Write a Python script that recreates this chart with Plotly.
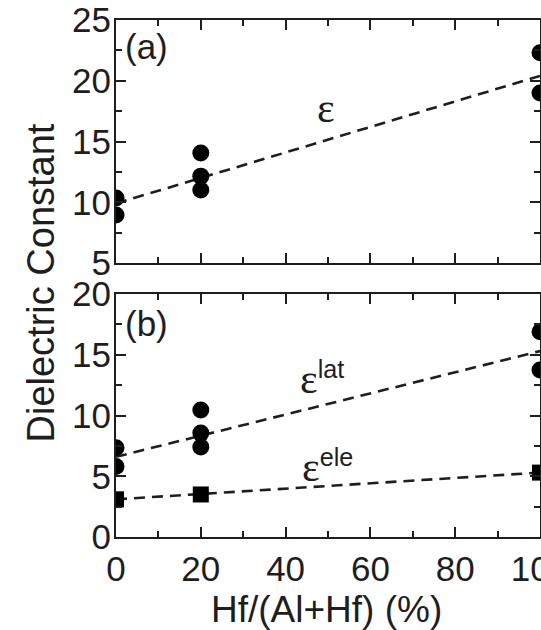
import plotly.graph_objects as go

# ---- data ----
x_fit = [0, 100]
eps_fit = [9.9, 20.4]
lat_fit = [6.6, 15.3]
ele_fit = [3.1, 5.3]

eps_x = [0, 0, 20, 20, 20, 100, 100]
eps_y = [10.35, 8.95, 14.05, 12.15, 11.0, 22.3, 19.0]

lat_x = [0, 0, 20, 20, 20, 100, 100]
lat_y = [7.35, 5.8, 10.45, 8.55, 7.4, 16.9, 13.75]

ele_x = [0, 20, 100]
ele_y = [3.1, 3.5, 5.3]

x_ticks = [0, 20, 40, 60, 80, 100]
y_top_ticks = [5, 10, 15, 20, 25]
y_bot_ticks = [0, 5, 10, 15, 20]

W, H = 541, 630
INK = "#1e1e1e"
SANS = "Liberation Sans, Arial, sans-serif"
SERIF = "Liberation Serif, Times New Roman, serif"

fig = go.Figure()
dash = "11px,7px"
# top panel
fig.add_trace(go.Scatter(x=x_fit, y=eps_fit, mode="lines",
                         line=dict(color=INK, width=2.6, dash=dash),
                         xaxis="x", yaxis="y", showlegend=False))
fig.add_trace(go.Scatter(x=eps_x, y=eps_y, mode="markers",
                         marker=dict(symbol="circle", size=17, color="black"),
                         xaxis="x", yaxis="y", showlegend=False))
# bottom panel
fig.add_trace(go.Scatter(x=x_fit, y=lat_fit, mode="lines",
                         line=dict(color=INK, width=2.6, dash=dash),
                         xaxis="x2", yaxis="y2", showlegend=False))
fig.add_trace(go.Scatter(x=x_fit, y=ele_fit, mode="lines",
                         line=dict(color=INK, width=2.6, dash=dash),
                         xaxis="x2", yaxis="y2", showlegend=False))
fig.add_trace(go.Scatter(x=lat_x, y=lat_y, mode="markers",
                         marker=dict(symbol="circle", size=17, color="black"),
                         xaxis="x2", yaxis="y2", showlegend=False))
fig.add_trace(go.Scatter(x=ele_x, y=ele_y, mode="markers",
                         marker=dict(symbol="square", size=16, color="black"),
                         xaxis="x2", yaxis="y2", showlegend=False))

def px_dom(top_px, bot_px):
    return [1 - bot_px / H, 1 - top_px / H]

common = dict(showline=True, linecolor=INK, linewidth=2, mirror="allticks",
              ticks="inside", ticklen=10, tickwidth=2, tickcolor=INK,
              showgrid=False, zeroline=False, automargin=False,
              tickfont=dict(family=SANS, size=35, color=INK))

minor_x = dict(ticks="inside", ticklen=6, tickwidth=2, tickcolor=INK, dtick=10)
minor_y = dict(ticks="inside", ticklen=6, tickwidth=2, tickcolor=INK, dtick=2.5)

fig.update_layout(
    width=W, height=H,
    margin=dict(l=116, r=1, t=0, b=0, autoexpand=False),
    paper_bgcolor="white", plot_bgcolor="white",
    xaxis=dict(common, range=[0, 100], tickvals=x_ticks, showticklabels=False,
               anchor="y", domain=[0, 1], minor=minor_x),
    yaxis=dict(common, range=[5, 25], tickvals=y_top_ticks, anchor="x",
               domain=px_dom(20, 263), minor=minor_y, ticklabelstandoff=-4),
    xaxis2=dict(common, range=[0, 100], tickvals=x_ticks, anchor="y2", domain=[0, 1],
                minor=minor_x, ticklabelstandoff=0, ticklabeloverflow="allow"),
    yaxis2=dict(common, range=[0, 20], tickvals=y_bot_ticks, anchor="x2",
                domain=px_dom(294, 537), minor=minor_y, ticklabelstandoff=-4),
)

def px(xp):
    return (xp - 116) / (W - 117)

def py(yp):
    return 1 - yp / H

ann = [
    dict(text="Dielectric Constant", x=px(40), y=py(283.5), textangle=-90,
         font=dict(family=SANS, size=38, color=INK), xanchor="center", yanchor="middle"),
    dict(text="Hf/(Al+Hf) (%)", x=px(326.5), y=py(609),
         font=dict(family=SANS, size=37, color=INK), xanchor="center", yanchor="middle"),
    dict(text="(a)", x=px(146), y=py(47),
         font=dict(family=SANS, size=35, color=INK), xanchor="center", yanchor="middle"),
    dict(text="(b)", x=px(146), y=py(323),
         font=dict(family=SANS, size=35, color=INK), xanchor="center", yanchor="middle"),
    dict(text="ε", x=px(326), y=py(108),
         font=dict(family=SERIF, size=42, color=INK), xanchor="center", yanchor="middle"),
    dict(text='<span style="font-family:Liberation Serif;font-size:42px">ε</span><sup>lat</sup>',
         x=px(298), y=py(378), font=dict(family=SANS, size=36, color=INK),
         xanchor="left", yanchor="middle"),
    dict(text='<span style="font-family:Liberation Serif;font-size:42px">ε</span><sup>ele</sup>',
         x=px(300), y=py(466), font=dict(family=SANS, size=36, color=INK),
         xanchor="left", yanchor="middle"),
]
for a in ann:
    a["xref"] = "paper"
    a["yref"] = "paper"
    a["showarrow"] = False
fig.update_layout(annotations=ann)

fig.write_html("out.html")
